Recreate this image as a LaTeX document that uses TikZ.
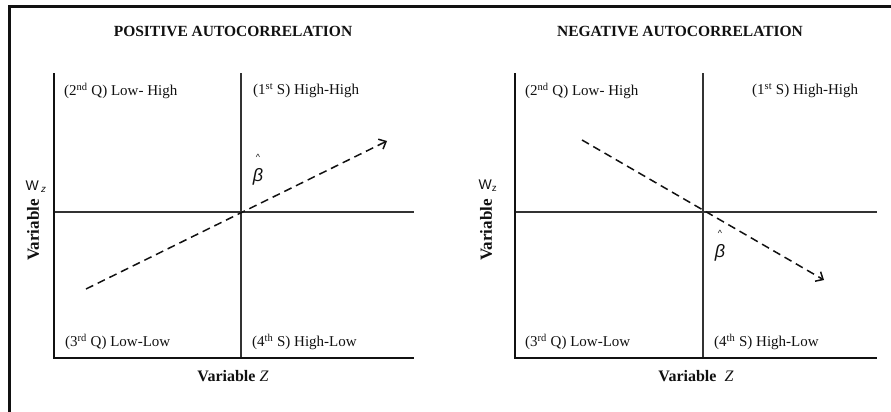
\documentclass[tikz,border=0pt]{standalone}
\usepackage{fontspec}
\setmainfont{Liberation Serif}
\newfontfamily\wfont{Liberation Sans}
\usetikzlibrary{arrows.meta,positioning}
\definecolor{ink}{HTML}{111111}
\definecolor{gridc}{HTML}{333333}
\tikzset{
  frame/.style={line width=3pt,draw=ink},
  axis/.style={line width=2.6pt,draw=ink,line join=miter},
  quad/.style={line width=1.3pt,draw=gridc},
  trend/.style={draw=ink,line width=1.5pt,dash pattern=on 8pt off 5pt,-{Straight Barb[length=6pt,width=11pt]}},
  qlab/.style={font=\fontsize{15}{17}\selectfont,inner sep=0pt,anchor=west,text=ink},
  ttl/.style={font=\fontsize{15.5}{18}\selectfont\bfseries,inner sep=0pt,text=ink},
  xlab/.style={font=\fontsize{16}{18}\selectfont\bfseries,inner sep=0pt,text=ink},
  ylab/.style={font=\fontsize{17}{19}\selectfont\bfseries,inner sep=0pt,text=ink,rotate=90},
  wlab/.style={font=\fontsize{14}{16}\selectfont\wfont,inner sep=0pt,text=ink},
  blab/.style={font=\fontsize{18}{20}\selectfont\wfont,inner sep=0pt,text=ink,align=center},
}
\newcommand{\bhat}{{\fontsize{9}{9}\selectfont\textasciicircum}\\[1pt]\textit{β}}

\begin{document}
\begin{tikzpicture}[x=1pt,y=-1pt]
\useasboundingbox (0,0) rectangle (891,412);
\coordinate (fB) at (9,412); \coordinate (fC) at (9,6.5); \coordinate (fR) at (891,6.5);
\draw[frame] (fB) -- (fC) -- (fR);

% positive
\node[ttl] (pt) at (233,31) {POSITIVE AUTOCORRELATION};
\coordinate (pTop) at (54,73); \coordinate (pO) at (54,358); \coordinate (pEnd) at (414,358);
\coordinate (pVT) at (241,73); \coordinate (pVB) at (241,358);
\coordinate (pHL) at (54,212); \coordinate (pHR) at (414,212);
\draw[quad] (pVT) -- (pVB); \draw[quad] (pHL) -- (pHR);
\draw[axis] (pTop) -- (pO) -- (pEnd);
\coordinate (pA) at (86,289); \coordinate (pB) at (387,141);
\draw[trend] (pA) -- (pB);
\node[qlab] (p2) at (64,91) {(2\textsuperscript{nd} Q) Low- High};
\node[qlab] (p1) at (253,91) {(1\textsuperscript{st} S) High-High};
\node[qlab] (p3) at (65,342) {(3\textsuperscript{rd} Q) Low-Low};
\node[qlab] (p4) at (252,342) {(4\textsuperscript{th} S) High-Low};
\node[blab] (pbeta) at (258,170) {\bhat};
\node[xlab] (px) at (233,376) {Variable \textmd{\textit{Z}}};
\node[ylab] (py) at (33,230) {Variable};
\node[wlab] (pw) at (36,187) {W\,\textsubscript{\itshape z}};

% negative
\node[ttl] (nt) at (680,31) {NEGATIVE AUTOCORRELATION};
\coordinate (nTop) at (515,73); \coordinate (nO) at (515,358); \coordinate (nEnd) at (877,358);
\coordinate (nVT) at (703,73); \coordinate (nVB) at (703,358);
\coordinate (nHL) at (515,212); \coordinate (nHR) at (877,212);
\draw[quad] (nVT) -- (nVB); \draw[quad] (nHL) -- (nHR);
\draw[axis] (nTop) -- (nO) -- (nEnd);
\coordinate (nA) at (582,140); \coordinate (nB) at (824,280);
\draw[trend] (nA) -- (nB);
\node[qlab] (n2) at (525,91) {(2\textsuperscript{nd} Q) Low- High};
\node[qlab] (n1) at (752,91) {(1\textsuperscript{st} S) High-High};
\node[qlab] (n3) at (525,342) {(3\textsuperscript{rd} Q) Low-Low};
\node[qlab] (n4) at (714,342) {(4\textsuperscript{th} S) High-Low};
\node[blab] (nbeta) at (720,246) {\bhat};
\node[xlab] (nx) at (696,376) {Variable\ \ \textmd{\textit{Z}}};
\node[ylab] (ny) at (486,230) {Variable};
\node[wlab] (nw) at (488,186) {W\textsubscript{z}};
\end{tikzpicture}
\end{document}
